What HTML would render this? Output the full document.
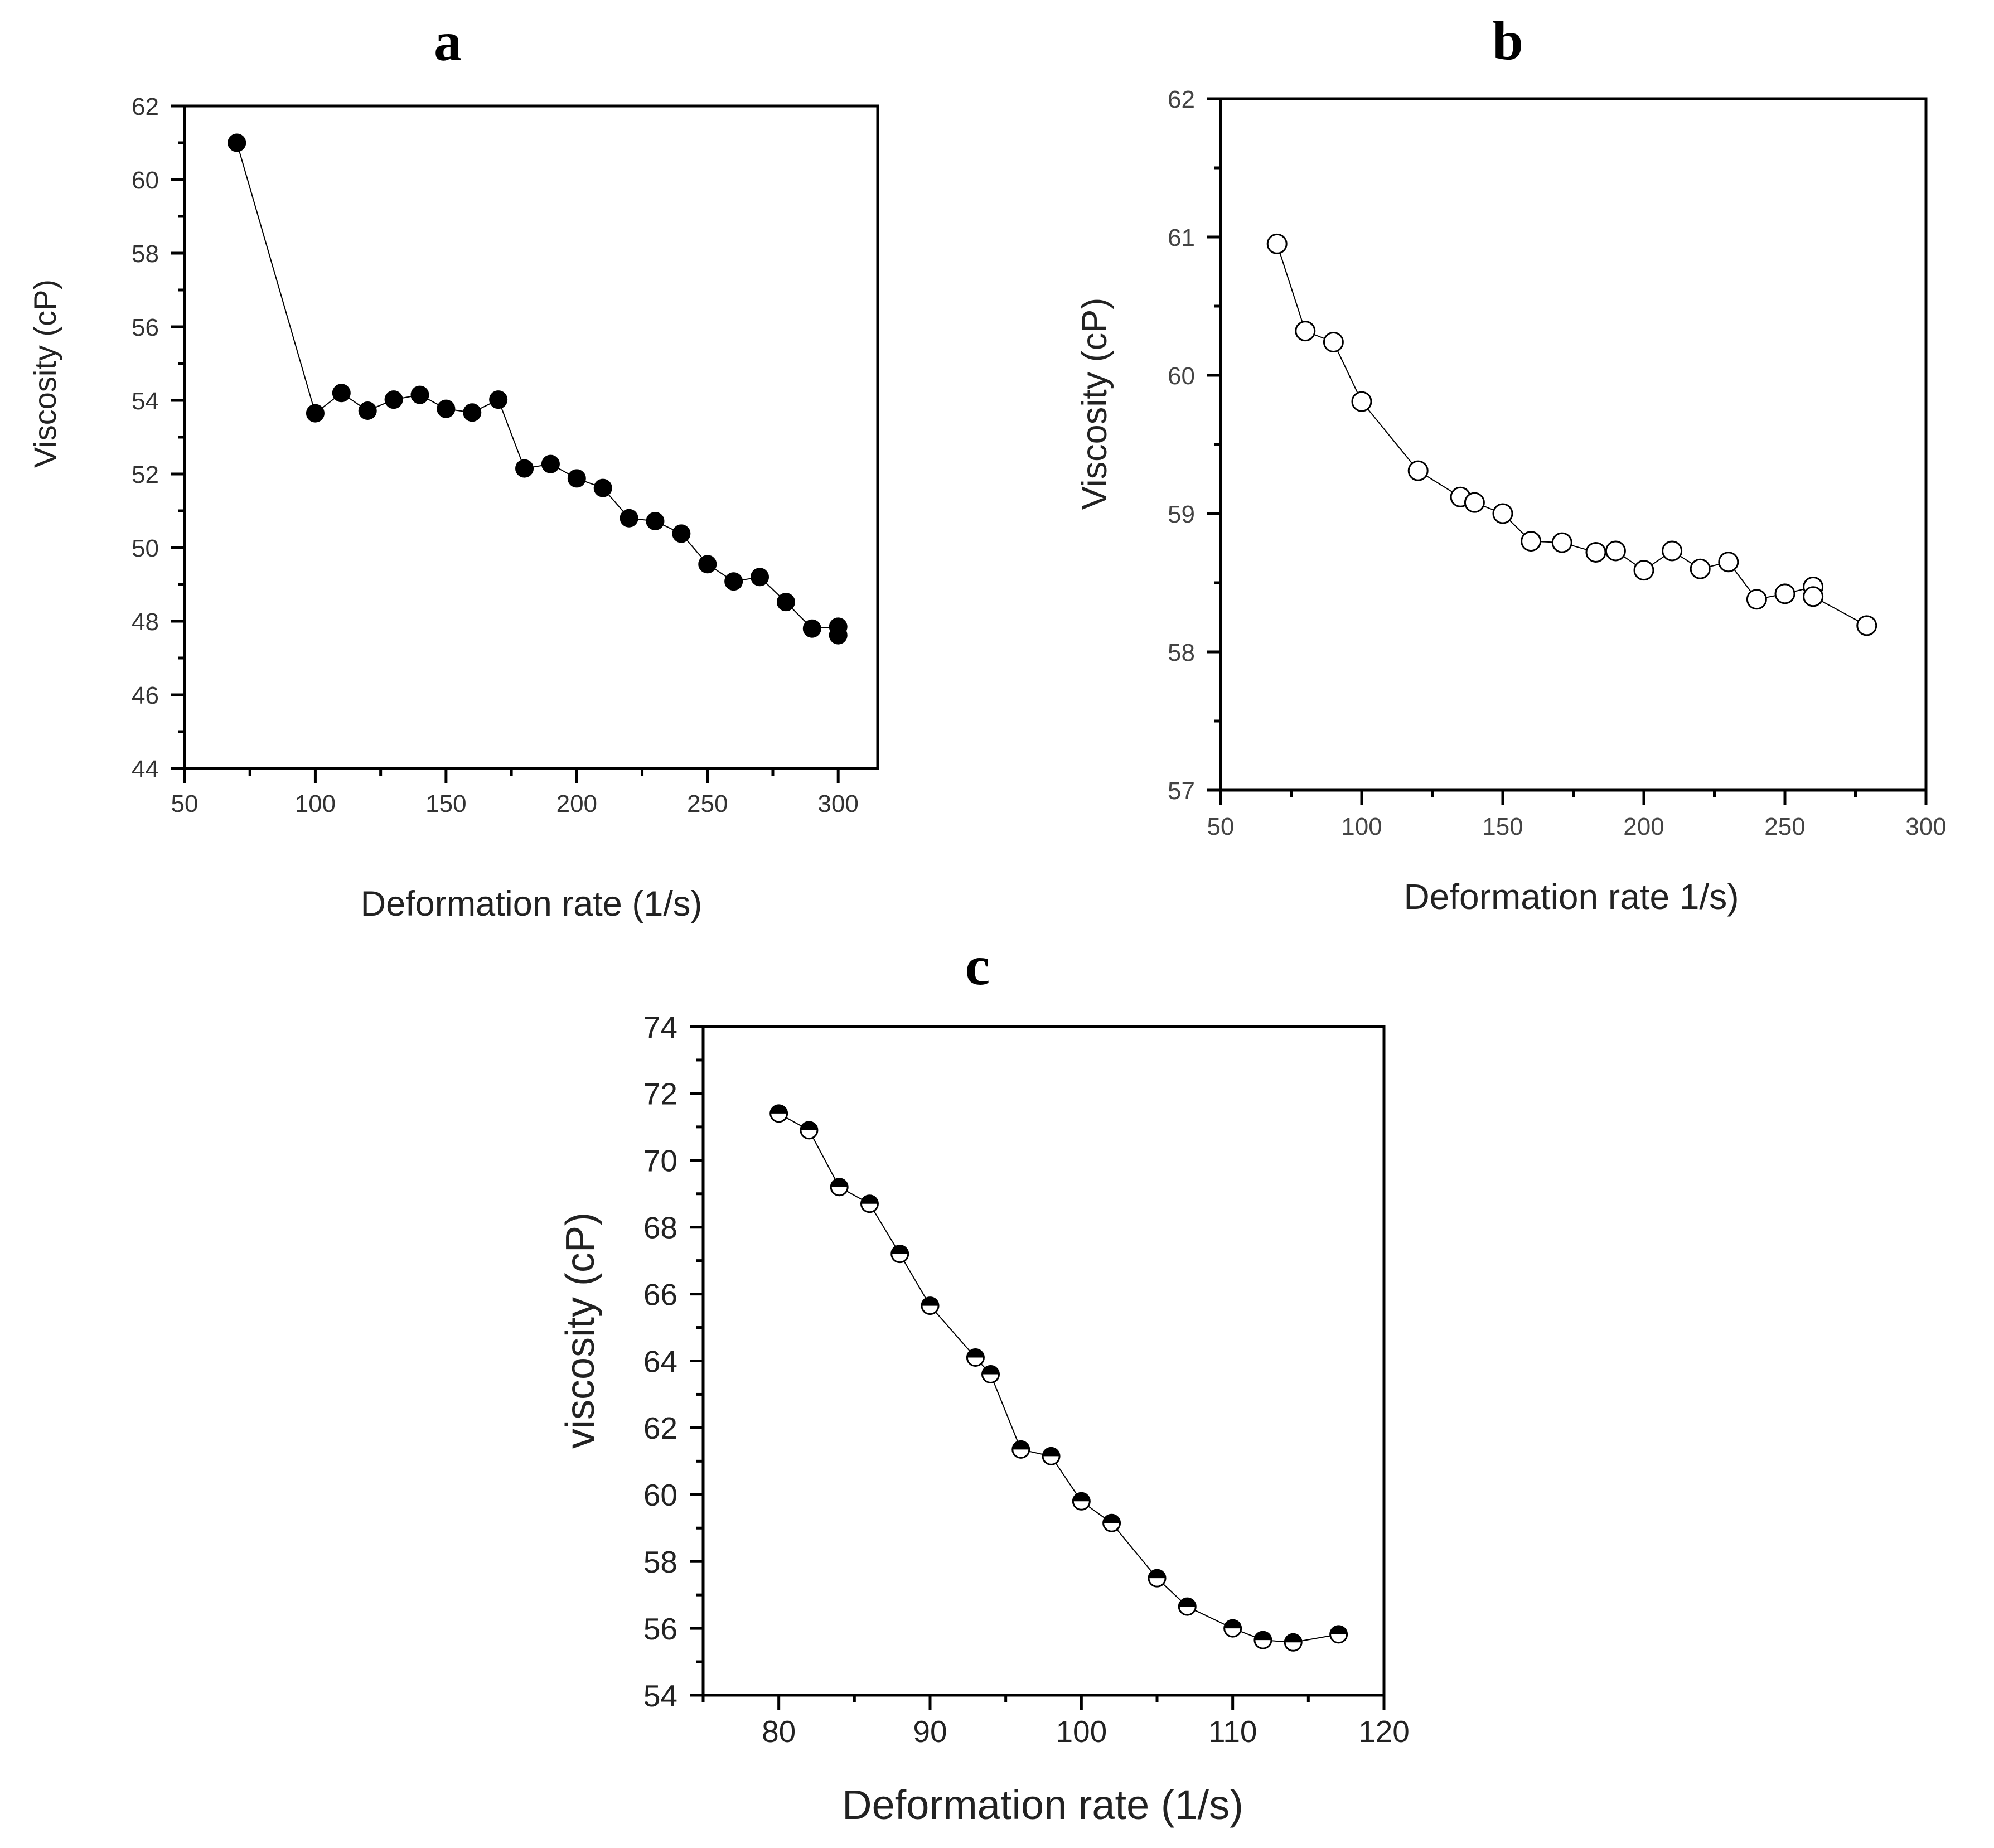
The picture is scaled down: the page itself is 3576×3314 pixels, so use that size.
<!DOCTYPE html>
<html><head><meta charset="utf-8"><style>
html,body{margin:0;padding:0;background:#fff}
svg{display:block}
text{font-family:"Liberation Sans",Arial,sans-serif}
</style></head><body>
<svg id="fig" width="3576" height="3314" viewBox="0 0 3576 3314" xmlns="http://www.w3.org/2000/svg"></svg>
<script>
const aX=[70,100,110,120,130,140,150,160,170,180,190,200,210,220,230,240,250,260,270,280,290,300,300];
const aY=[61.0,53.65,54.2,53.72,54.02,54.15,53.77,53.67,54.02,52.15,52.27,51.88,51.62,50.8,50.72,50.38,49.55,49.08,49.2,48.52,47.8,47.85,47.62];
const aXTicks=[50,100,150,200,250,300];
const aYTicks=[44,46,48,50,52,54,56,58,60,62];
const bX=[70,80,90,100,120,135,140,150,160,171,183,190,200,210,220,230,240,250,260,260,279];
const bY=[60.95,60.32,60.24,59.81,59.31,59.12,59.08,59.0,58.8,58.79,58.72,58.73,58.59,58.73,58.6,58.65,58.38,58.42,58.47,58.4,58.19];
const bXTicks=[50,100,150,200,250,300];
const bYTicks=[57,58,59,60,61,62];
const cX=[80,82,84,86,88,90,93,94,96,98,100,102,105,107,110,112,114,117];
const cY=[71.4,70.9,69.2,68.7,67.2,65.65,64.1,63.6,61.35,61.15,59.8,59.15,57.5,56.65,56.0,55.65,55.58,55.82];
const cXTicks=[80,90,100,110,120];
const cYTicks=[54,56,58,60,62,64,66,68,70,72,74];

const NS="http://www.w3.org/2000/svg";
const svg=document.getElementById('fig');
function mk(tag,attrs,parent){const e=document.createElementNS(NS,tag);for(const k in attrs)e.setAttribute(k,attrs[k]);(parent||svg).appendChild(e);return e;}

function panel(o){
  const g=mk('g',{});
  
  
  const sx=v=>o.L+(v-o.x0)/(o.x1-o.x0)*(o.R-o.L);
  const sy=v=>o.B-(v-o.y0)/(o.y1-o.y0)*(o.B-o.T);
  const lbl=mk('text',{x:o.lx,y:o.ly,'text-anchor':'middle','font-size':o.lfs,'font-weight':'bold',style:'font-family:"Liberation Serif",serif'},g);
  lbl.textContent=o.letter;
  
  
  const fr=mk('rect',{x:o.L,y:o.T,width:o.R-o.L,height:o.B-o.T,fill:'none',stroke:'#000','stroke-width':5},g);
  
  
  for(let v=o.x0;v<=o.x1+1e-9;v+=o.xminor){
    const major=o.xt.some(t=>Math.abs(t-v)<1e-6);
    const x=sx(v);
    const t=mk('line',{x1:x,x2:x,y1:o.B,y2:o.B+(major?26:13),stroke:'#000','stroke-width':5},g);
    
    
  }
  o.xt.forEach(v=>{
    const t=mk('text',{x:sx(v),y:o.B+o.xlo,'text-anchor':'middle','font-size':o.tfs,fill:o.tcol},g);
    t.textContent=v;
    
    
  });
  for(let v=o.y0;v<=o.y1+1e-9;v+=o.yminor){
    const major=o.yt.some(t=>Math.abs(t-v)<1e-6);
    const y=sy(v);
    const t=mk('line',{x1:o.L,x2:o.L-(major?24:12),y1:y,y2:y,stroke:'#000','stroke-width':5},g);
    
    
  }
  o.yt.forEach(v=>{
    const t=mk('text',{x:o.L-46,y:sy(v)+o.tfs*0.36,'text-anchor':'end','font-size':o.tfs,fill:o.tcol},g);
    t.textContent=v;
    
    
  });
  const xt=mk('text',{x:o.xtx,y:o.xty,'text-anchor':'middle','font-size':o.xfs,fill:'#222'},g);
  xt.textContent=o.xtitle;
  
  
  const yt=mk('text',{x:0,y:0,'text-anchor':'middle','font-size':o.yfs,fill:'#222',transform:`translate(${o.ytx},${o.yty}) rotate(-90)`},g);
  yt.textContent=o.ytitle;
  
  
  const pts=o.X.map((x,i)=>sx(x)+','+sy(o.Y[i])).join(' ');
  const pl=mk('polyline',{points:pts,fill:'none',stroke:'#000','stroke-width':2},g);
  
  
  o.X.forEach((x,i)=>{
    const cx=sx(x),cy=sy(o.Y[i]),r=o.r;
    if(o.marker==='half'){
      const c=mk('circle',{cx,cy,r,fill:'#fff',stroke:'#000','stroke-width':3},g);
      
      
      const h=mk('path',{d:`M${cx-r},${cy} A${r},${r} 0 0 1 ${cx+r},${cy} Z`,fill:'#000'},g);
      
      
    } else {
      const c=mk('circle',{cx,cy,r,fill:o.marker==='filled'?'#000':'#fff',stroke:'#000','stroke-width':3},g);
      
      
    }
  });
}
panel({name:'panel-a',letter:'a',lx:803,ly:108,lfs:100,L:331,R:1574,T:190,B:1378,x0:50,x1:315.1,y0:44,y1:62,
  xt:aXTicks,yt:aYTicks,xminor:25,yminor:1,tfs:44,xlo:78,tcol:'#333',xfs:63,yfs:56,xtitle:'Deformation rate (1/s)',ytitle:'Viscosity (cP)',
  xtx:953,xty:1642,ytx:100,yty:670,X:aX,Y:aY,r:15,marker:'filled'});
panel({name:'panel-b',letter:'b',lx:2704,ly:106,lfs:100,L:2189,R:3454,T:177,B:1417,x0:50,x1:300,y0:57,y1:62,
  xt:bXTicks,yt:bYTicks,xminor:25,yminor:0.5,tfs:44,xlo:80,tcol:'#444',xfs:64,yfs:63,xtitle:'Deformation rate 1/s)',ytitle:'Viscosity (cP)',
  xtx:2818,xty:1630,ytx:1984,yty:724,X:bX,Y:bY,r:17,marker:'open'});
panel({name:'panel-c',letter:'c',lx:1753,ly:1765,lfs:100,L:1261,R:2482,T:1841,B:3040,x0:75,x1:120,y0:54,y1:74,
  xt:cXTicks,yt:cYTicks,xminor:5,yminor:1,tfs:55,xlo:84,tcol:'#222',xfs:74,yfs:72,xtitle:'Deformation rate (1/s)',ytitle:'viscosity (cP)',
  xtx:1870,xty:3262,ytx:1065,yty:2386,X:cX,Y:cY,r:15,marker:'half'});
</script>
</body></html>
